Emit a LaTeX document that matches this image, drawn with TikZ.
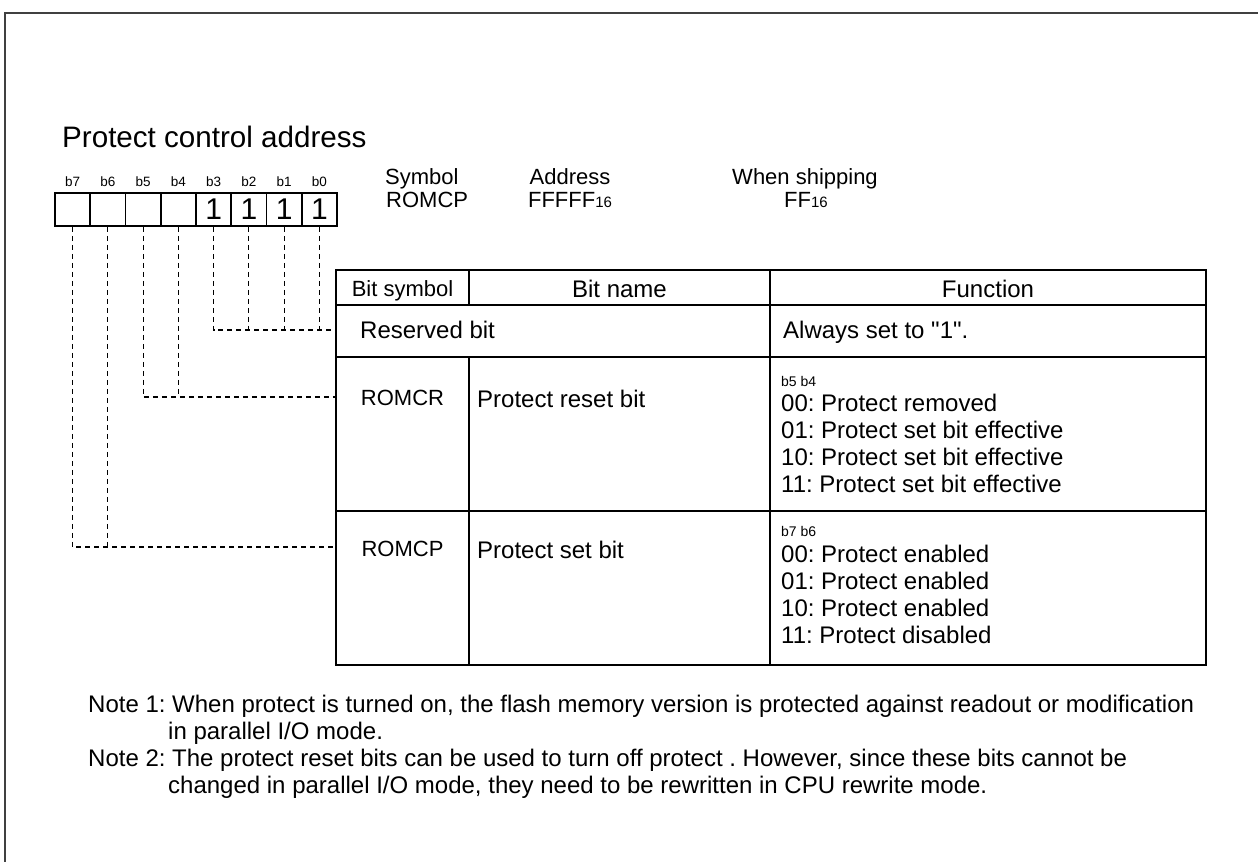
\documentclass[tikz,border=0pt]{standalone}
\usepackage{fontspec}
\setmainfont{Liberation Sans}
\usetikzlibrary{positioning}

\newcommand{\fs}[1]{\fontsize{#1}{#1}\selectfont}

\begin{document}
\frenchspacing
\begin{tikzpicture}[x=1pt, y=-1pt,
    txt/.style={inner sep=0pt, anchor=base west, font=\fs{24}},
    ctxt/.style={inner sep=0pt, anchor=base, font=\fs{24}},
    bitcell/.style={draw, line width=1.6pt, minimum width=35.25pt, minimum height=33pt, inner sep=0pt, font=\fs{30}},
    bitlbl/.style={inner sep=0pt, font=\fs{13.5}},
    dashline/.style={line width=1.2pt, dash pattern=on 5pt off 4pt}]
  \useasboundingbox (0,0) rectangle (1258,862);

  % outer frame
  \draw[line width=1.8pt, black!75] (1258,13) -- (5,13) -- (5,862);

  \node[txt, font=\fs{29.6}] (title) at (62,147) {Protect control address};

  % bit cells b7 ... b0
  \foreach \i in {7,...,0} {
    \pgfmathsetmacro{\cx}{72.6+35.25*(7-\i)}
    \node[bitcell] (c\i) at (\cx,209.5) {\ifnum\i<4 \raisebox{-2.5pt}{1}\fi};
    \node[bitlbl, above=5pt of c\i] (l\i) {b\i};
  }

  % register info
  \node[txt, font=\fs{22}] (symhd) at (385,184) {Symbol};
  \node[txt, font=\fs{22}] (symval) at (386,207) {ROMCP};
  \node[ctxt, font=\fs{22}] (adrhd) at (570,184) {Address};
  \node[ctxt, font=\fs{22}] (adrval) at (570,207) {FFFFF{\fs{15}16}};
  \node[ctxt, font=\fs{22}] (shiphd) at (805,184) {When shipping};
  \node[ctxt, font=\fs{22}] (shipval) at (806,207) {FF{\fs{15}16}};

  % table
  \draw[line width=1.6pt] (336,270) rectangle (1206,665);
  \draw[line width=1.6pt] (336,305) -- (1206,305)
    (336,357) -- (1206,357) (336,511) -- (1206,511)
    (469,270) -- (469,305) (469,357) -- (469,665)
    (770,270) -- (770,665);

  \node[ctxt, font=\fs{22}] (hbs) at (402.5,296) {Bit symbol};
  \node[ctxt] (hbn) at (619.5,297) {Bit name};
  \node[ctxt] (hfn) at (988,297) {Function};

  \node[txt] (rsvname) at (360,338) {Reserved bit};
  \node[txt] (rsvfn) at (783,338) {Always set to \textquotedbl 1\textquotedbl .};

  \node[ctxt, font=\fs{22}] (crsym) at (402.5,405) {ROMCR};
  \node[txt] (crname) at (477,407) {Protect reset bit};
  \node[txt, font=\fs{14}] (crbits) at (781,386) {b5 b4};
  \node[txt] (cr0) at (781,411) {00: Protect removed};
  \node[txt] (cr1) at (781,438) {01: Protect set bit effective};
  \node[txt] (cr2) at (781,465) {10: Protect set bit effective};
  \node[txt] (cr3) at (781,492) {11: Protect set bit effective};

  \node[ctxt, font=\fs{22}] (cpsym) at (402.5,556) {ROMCP};
  \node[txt] (cpname) at (477,558) {Protect set bit};
  \node[txt, font=\fs{14}] (cpbits) at (781,536) {b7 b6};
  \node[txt] (cp0) at (781,562) {00: Protect enabled};
  \node[txt] (cp1) at (781,589) {01: Protect enabled};
  \node[txt] (cp2) at (781,616) {10: Protect enabled};
  \node[txt] (cp3) at (781,643) {11: Protect disabled};

  % where the bits join the table
  \coordinate (rsv) at (336,330);
  \coordinate (rcr) at (336,397);
  \coordinate (rcp) at (336,547);

  \draw[dashline] (c3.south) |- (rsv);
  \foreach \i in {2,1,0}
    \draw[dashline] (c\i.south) -- (c\i.south |- rsv);
  \draw[dashline] (c5.south) |- (rcr);
  \draw[dashline] (c4.south) -- (c4.south |- rcr);
  \draw[dashline] (c7.south) |- (rcp);
  \draw[dashline] (c6.south) -- (c6.south |- rcp);

  % notes
  \node[txt] (n1a) at (88,712) {Note 1: When protect is turned on, the flash memory version is protected against readout or modification};
  \node[txt] (n1b) at (168,739) {in parallel I/O mode.};
  \node[txt] (n2a) at (88,766) {Note 2: The protect reset bits can be used to turn off protect . However, since these bits cannot be};
  \node[txt] (n2b) at (168,793) {changed in parallel I/O mode, they need to be rewritten in CPU rewrite mode.};
\end{tikzpicture}
\end{document}
